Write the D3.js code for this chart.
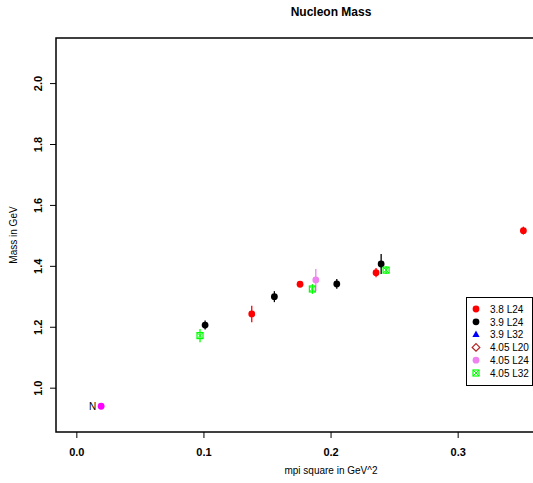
<!DOCTYPE html>
<html>
<head>
<meta charset="utf-8">
<script src="https://cdn.jsdelivr.net/npm/d3@7"></script>
<style>
  body { margin: 0; background: #fff; }
  svg { display: block; font-family: "Liberation Sans", Arial, sans-serif; }
</style>
</head>
<body>
<script>
// series names shown in the legend
const seriesNames = ["3.8 L24", "3.9 L24", "3.9 L32", "4.05 L20", "4.05 L24", "4.05 L32"];
const seriesColors = ["#ff0000", "#000000", "#0000ff", "#b22222", "#ee82ee", "#00ff00"];
const seriesShapes = ["circle", "circle", "triangle", "diamond", "circle", "boxx"];

// values: mpi^2, mass, error
const b38L24_x = [0.138, 0.176, 0.2358, 0.3517];
const b38L24_y = [1.242, 1.3396, 1.3777, 1.5156];
const b38L24_e = [0.027, 0.005, 0.015, 0.013];

const b39L24_x = [0.1013, 0.1558, 0.2049, 0.2398];
const b39L24_y = [1.2056, 1.2989, 1.3406, 1.406];
const b39L24_e = [0.015, 0.018, 0.016, 0.033];

const b39L32_x = [], b39L32_y = [], b39L32_e = [];
const b405L20_x = [], b405L20_y = [], b405L20_e = [];

const b405L24_x = [0.1884];
const b405L24_y = [1.3537];
const b405L24_e = [0.036];

const b405L32_x = [0.0973, 0.1857, 0.2437];
const b405L32_y = [1.171, 1.324, 1.386];
const b405L32_e = [0.022, 0.016, 0.013];

// physical nucleon point
const physX = [0.0195];
const physY = [0.939];
const physLabel = ["N"];

const xTicks = [0.0, 0.1, 0.2, 0.3];
const yTicks = [1.0, 1.2, 1.4, 1.6, 1.8, 2.0];

const W = 533, H = 483;
const plot = { left: 56, top: 38, right: 606, bottom: 432 };

const svg = d3.select("body").append("svg")
  .attr("width", W)
  .attr("height", H);

const x = d3.scaleLinear().domain([-0.016, 0.4167]).range([plot.left, plot.right]);
const y = d3.scaleLinear().domain([0.8545, 2.148]).range([plot.bottom, plot.top]);

// title
svg.append("text")
  .attr("x", (plot.left + plot.right) / 2)
  .attr("y", 16)
  .attr("text-anchor", "middle")
  .style("font-size", "12px")
  .style("font-weight", "bold")
  .text("Nucleon Mass");

// box
svg.append("rect")
  .attr("x", plot.left).attr("y", plot.top)
  .attr("width", plot.right - plot.left).attr("height", plot.bottom - plot.top)
  .attr("fill", "none").attr("stroke", "#000").attr("stroke-width", 1.5);

// x axis
const xAxis = svg.append("g")
  .attr("transform", `translate(0,${plot.bottom})`)
  .call(d3.axisBottom(x).tickValues(xTicks).tickFormat(d3.format(".1f")).tickSize(6).tickPadding(10));
xAxis.select(".domain").remove();
xAxis.selectAll("text").style("font-size", "11px").style("font-weight", "bold")
  .style("font-family", "Liberation Sans, Arial, sans-serif");

// y axis
const yAxis = svg.append("g")
  .attr("transform", `translate(${plot.left},0)`)
  .call(d3.axisLeft(y).tickValues(yTicks).tickFormat(d3.format(".1f")).tickSize(6).tickPadding(0));
yAxis.select(".domain").remove();
yAxis.selectAll("text")
  .attr("x", null).attr("dy", null)
  .attr("text-anchor", "middle")
  .attr("transform", "translate(-14,0) rotate(-90)")
  .attr("y", 0)
  .style("font-size", "11px").style("font-weight", "bold")
  .style("font-family", "Liberation Sans, Arial, sans-serif");

// axis titles
svg.append("text")
  .attr("x", (plot.left + plot.right) / 2)
  .attr("y", 474)
  .attr("text-anchor", "middle")
  .style("font-size", "10px")
  .text("mpi square in GeV^2");

svg.append("text")
  .attr("transform", `translate(17,${(plot.top + plot.bottom) / 2}) rotate(-90)`)
  .attr("text-anchor", "middle")
  .style("font-size", "10px")
  .text("Mass in GeV");

function drawSymbol(g, shape, color, cx, cy) {
  if (shape === "circle") {
    g.append("circle").attr("cx", cx).attr("cy", cy).attr("r", 3.4).attr("fill", color);
  } else if (shape === "triangle") {
    g.append("path")
      .attr("d", `M${cx},${cy - 4}L${cx + 3.6},${cy + 2.5}L${cx - 3.6},${cy + 2.5}Z`)
      .attr("fill", color);
  } else if (shape === "diamond") {
    g.append("path")
      .attr("d", `M${cx},${cy - 3.8}L${cx + 3.8},${cy}L${cx},${cy + 3.8}L${cx - 3.8},${cy}Z`)
      .attr("fill", "none").attr("stroke", color).attr("stroke-width", 1.2);
  } else if (shape === "boxx") {
    g.append("rect").attr("x", cx - 3).attr("y", cy - 3).attr("width", 6).attr("height", 6)
      .attr("fill", "none").attr("stroke", color).attr("stroke-width", 1.2);
    g.append("path")
      .attr("d", `M${cx - 3},${cy - 3}L${cx + 3},${cy + 3}M${cx + 3},${cy - 3}L${cx - 3},${cy + 3}`)
      .attr("stroke", color).attr("stroke-width", 1);
  }
}

const seriesData = [
  [b38L24_x, b38L24_y, b38L24_e],
  [b39L24_x, b39L24_y, b39L24_e],
  [b39L32_x, b39L32_y, b39L32_e],
  [b405L20_x, b405L20_y, b405L20_e],
  [b405L24_x, b405L24_y, b405L24_e],
  [b405L32_x, b405L32_y, b405L32_e]
];

const marks = svg.append("g");
seriesData.forEach(([xs, ys, es], i) => {
  const pts = xs.map((v, j) => ({ x: v, y: ys[j], e: es[j] }));
  const g = marks.append("g");
  g.selectAll("line")
    .data(pts)
    .enter()
    .append("line")
    .attr("x1", d => x(d.x)).attr("x2", d => x(d.x))
    .attr("y1", d => y(d.y - d.e)).attr("y2", d => y(d.y + d.e))
    .attr("stroke", seriesColors[i]).attr("stroke-width", 1.3);
  pts.forEach(d => drawSymbol(g, seriesShapes[i], seriesColors[i], x(d.x), y(d.y)));
});

// physical point
physX.forEach((v, i) => {
  marks.append("circle").attr("cx", x(v)).attr("cy", y(physY[i])).attr("r", 3.4).attr("fill", "#ff00ff");
  marks.append("text")
    .attr("x", x(v) - 5).attr("y", y(physY[i]) + 4)
    .attr("text-anchor", "end")
    .style("font-size", "10px")
    .text(physLabel[i]);
});

// legend
const legend = svg.append("g");
legend.append("rect")
  .attr("x", 466.5).attr("y", 297.5).attr("width", 66).attr("height", 88)
  .attr("fill", "#fff").attr("stroke", "#000").attr("stroke-width", 1);
seriesNames.forEach((name, i) => {
  const ly = 309 + i * 12.8;
  drawSymbol(legend, seriesShapes[i], seriesColors[i], 476, ly);
  legend.append("text")
    .attr("x", 490).attr("y", ly + 3.8)
    .style("font-size", "10px")
    .text(name);
});
</script>
</body>
</html>
